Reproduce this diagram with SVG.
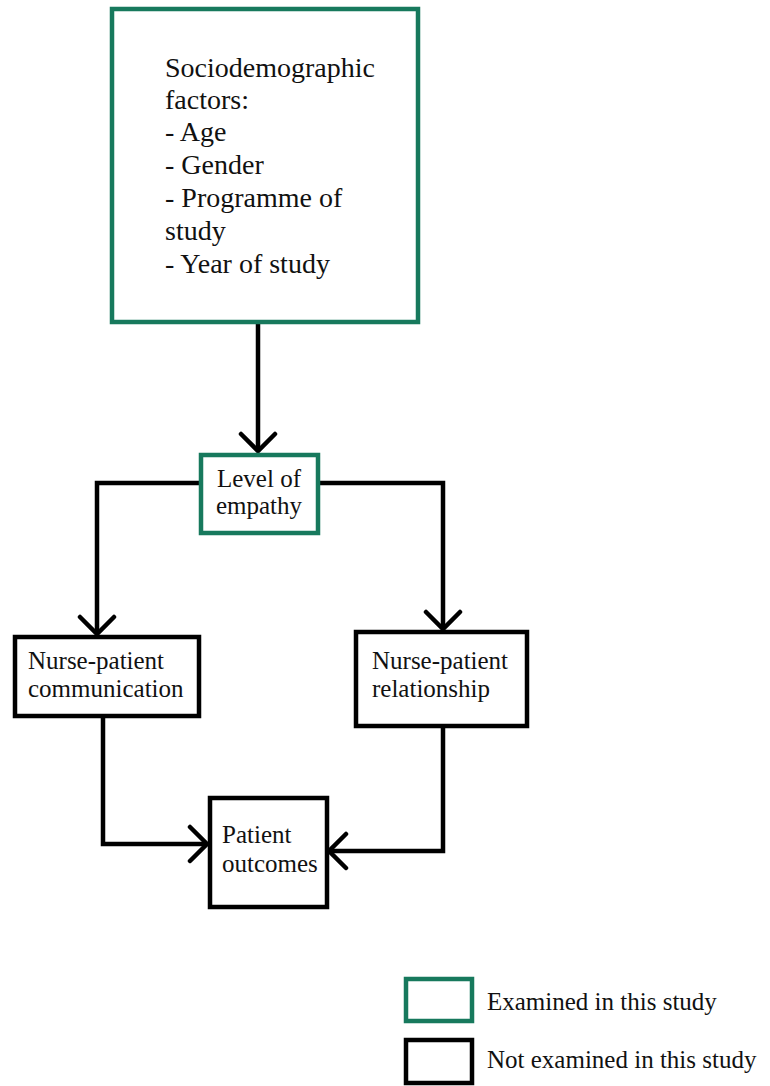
<svg xmlns="http://www.w3.org/2000/svg" width="770" height="1086" viewBox="0 0 770 1086">
<style>
.green{fill:#fff;stroke:#17795d;stroke-width:4.5}
.black{fill:#fff;stroke:#000;stroke-width:4.5}
.c{fill:none;stroke:#000;stroke-width:4.5;stroke-linejoin:miter}
.ah{fill:none;stroke:#000;stroke-width:4.5;stroke-linecap:round;stroke-linejoin:miter}
</style>
<defs>
<marker id="arr" markerUnits="userSpaceOnUse" markerWidth="40" markerHeight="40" refX="20" refY="20" orient="auto" viewBox="0 0 40 40">
<path d="M3,3 L20,20 L3,37" class="ah"/>
</marker>
</defs>
<rect width="770" height="1086" fill="#fff"/>
<g id="connectors">
<path class="c" d="M258,322 V451" marker-end="url(#arr)"/>
<path class="c" d="M201,483 H97 V634" marker-end="url(#arr)"/>
<path class="c" d="M318,483 H443 V629" marker-end="url(#arr)"/>
<path class="c" d="M103,716 V844 H207" marker-end="url(#arr)"/>
<path class="c" d="M443,726 V851 H329" marker-end="url(#arr)"/>
</g>
<g font-family="Liberation Serif, Times New Roman, serif" fill="#111">
<g id="sociodemographic">
<rect class="green" x="112" y="9" width="306" height="313"/>
<text font-size="28">
<tspan x="165" y="77">Sociodemographic</tspan>
<tspan x="165" y="109">factors:</tspan>
<tspan x="165" y="141">- Age</tspan>
<tspan x="165" y="174">- Gender</tspan>
<tspan x="165" y="207">- Programme of</tspan>
<tspan x="165" y="240">study</tspan>
<tspan x="165" y="273">- Year of study</tspan>
</text>
</g>
<g id="empathy">
<rect class="green" x="201" y="455" width="117" height="78"/>
<text font-size="25" text-anchor="middle"><tspan x="259" y="487">Level of</tspan><tspan x="259" y="514">empathy</tspan></text>
</g>
<g id="communication">
<rect class="black" x="15" y="637" width="184" height="79"/>
<text font-size="25"><tspan x="28" y="669">Nurse-patient</tspan><tspan x="28" y="697">communication</tspan></text>
</g>
<g id="relationship">
<rect class="black" x="356" y="632" width="171" height="94"/>
<text font-size="25"><tspan x="372" y="669">Nurse-patient</tspan><tspan x="372" y="697">relationship</tspan></text>
</g>
<g id="outcomes">
<rect class="black" x="210" y="798" width="117" height="109"/>
<text font-size="25"><tspan x="222" y="843">Patient</tspan><tspan x="222" y="872">outcomes</tspan></text>
</g>
<g id="legend">
<rect class="green" x="406" y="979" width="66" height="42"/>
<text font-size="25" x="487" y="1010">Examined in this study</text>
<rect class="black" x="406" y="1040" width="66" height="43"/>
<text font-size="25" x="487" y="1068">Not examined in this study</text>
</g>
</g>
</svg>
